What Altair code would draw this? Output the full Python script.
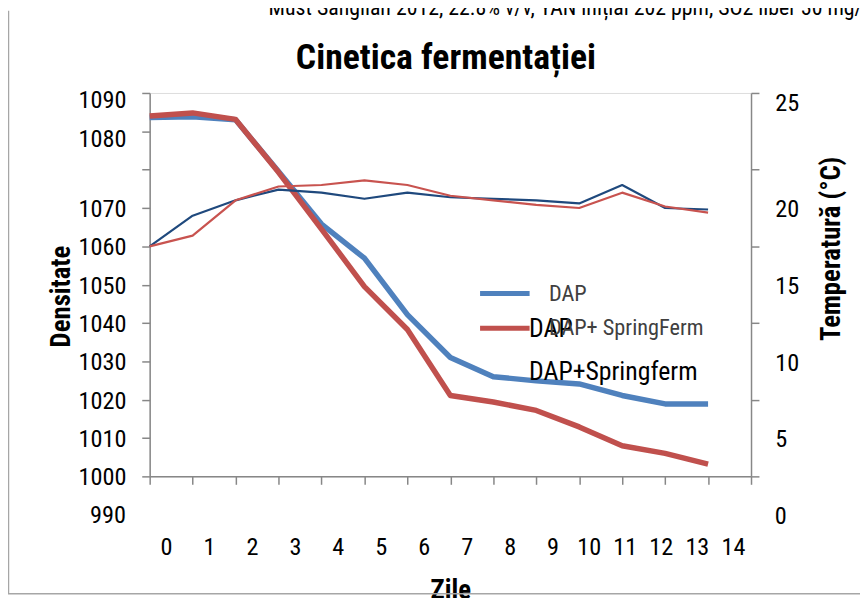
import altair as alt
import pandas as pd

# ---------------- data ----------------
days = list(range(14))
series_names = ["DAP", "DAP+ SpringFerm"]
dens_dap = [1093.6, 1093.8, 1093.0, 1079.5, 1065.8, 1056.9, 1042.2, 1031.0, 1026.0, 1024.9, 1024.1, 1021.1, 1018.9, 1018.9]
dens_sf = [1094.0, 1094.8, 1093.1, 1079.3, 1064.5, 1049.5, 1038.3, 1021.1, 1019.4, 1017.2, 1012.9, 1008.0, 1006.0, 1003.2]
temp_names = ["T DAP", "T DAP+ SpringFerm"]
temp_dap = [17.5, 19.5, 20.5, 21.2, 21.0, 20.6, 21.0, 20.7, 20.6, 20.5, 20.3, 21.5, 20.0, 19.9]
temp_sf = [17.5, 18.2, 20.5, 21.4, 21.5, 21.8, 21.5, 20.8, 20.5, 20.2, 20.0, 21.0, 20.1, 19.7]

x_ticks = list(range(15))
dens_ticks = list(range(1000, 1101, 10))
temp_ticks = [2.5, 5, 7.5, 10, 12.5, 15, 17.5, 20, 22.5, 25, 27.5]
extra_dens_label = [990]
extra_temp_label = [0]

title_text = "Cinetica fermentației"
top_note = "Must Sangilan 2012, 22.8% v/v, YAN inițial 202 ppm, SO2 liber 30 mg/l"
note_labels = ["DAP", "DAP+Springferm"]

FONT = "Roboto Condensed, Open Sans Condensed, Liberation Sans, sans-serif"
GRAY = "#878787"
LBL = 24.5

dens_df = pd.DataFrame({
    "day": days * 2,
    "value": dens_dap + dens_sf,
    "series": [series_names[0]] * 14 + [series_names[1]] * 14,
})
temp_df = pd.DataFrame({
    "day": days * 2,
    "value": temp_dap + temp_sf,
    "series": [temp_names[0]] * 14 + [temp_names[1]] * 14,
})

x_enc = alt.X(
    "day:Q",
    scale=alt.Scale(domain=[0, 14], nice=False, zero=False),
    axis=alt.Axis(
        values=x_ticks, grid=False, title="Zile", format="d",
        titleFont=FONT, titleFontSize=27, titleFontWeight="bold", titleColor="black",
        titleBaseline="alphabetic", titleY=123,
        labelFont=FONT, labelFontSize=LBL, labelColor="black",
        labelBaseline="middle", labelPadding=64, labelFlush=False, labelOverlap=False,
        labelOffset={"expr": "datum.value <= 9 ? 16.5 : 16.5 - 6.95 * (datum.value - 9)"},
        tickSize=8, tickColor=GRAY, tickWidth=1.5, domainColor=GRAY, domainWidth=1.5,
    ),
)

dens_scale = alt.Scale(domain=[1000, 1100], nice=False, zero=False)
dens_axis = alt.Axis(
    values=dens_ticks, grid=False, title="Densitate", format="d",
    titleFont=FONT, titleFontSize=27, titleFontWeight="bold", titleColor="black",
    titleAngle=270, titleBaseline="alphabetic", titleAlign="center", titleX=-81, titleY=205,
    labelFont=FONT, labelFontSize=LBL, labelColor="black", labelPadding=16,
    labelOverlap=False, labelFlush=False,
    labelExpr="datum.value == 1080 ? '' : datum.value == 1090 ? '1080' : datum.value == 1100 ? '1090' : datum.label",
    labelOffset={"expr": "datum.value >= 1090 ? 8 : 1.5"},
    tickSize=8, tickColor=GRAY, tickWidth=1.5, domainColor=GRAY, domainWidth=1.5,
)

temp_scale = alt.Scale(domain=[2.5, 27.5], nice=False, zero=False)
temp_axis = alt.Axis(
    values=temp_ticks, grid=False, title="Temperatură (°C)", orient="right",
    titleFont=FONT, titleFontSize=27, titleFontWeight="bold", titleColor="black",
    titleAngle=270, titleBaseline="alphabetic", titleAlign="center", titleX=89, titleY=157,
    labelFont=FONT, labelFontSize=LBL, labelColor="black", labelPadding=16,
    labelOverlap=False, labelFlush=False,
    labelExpr="datum.value % 5 == 0 ? format(datum.value, 'd') : ''",
    labelOffset={"expr": "datum.value == 25 ? -28 : 2"},
    tickOpacity={"expr": "datum.value % 5 == 0 ? 0 : 1"},
    tickSize=8, tickColor=GRAY, tickWidth=1.5, domainColor=GRAY, domainWidth=1.5,
)

dens_lines = alt.Chart(dens_df).mark_line(strokeWidth=5.5, strokeJoin="round").encode(
    x=x_enc,
    y=alt.Y("value:Q", scale=dens_scale, axis=dens_axis),
    color=alt.Color(
        "series:N",
        scale=alt.Scale(domain=series_names, range=["#4F81BD", "#C0504D"]),
        legend=alt.Legend(
            title=None, orient="none", legendX=346, legendY=190,
            symbolType="M-2.5,0H2.5", symbolSize=400, symbolStrokeWidth=5,
            labelFont=FONT, labelFontSize=22.5, labelColor="#404040", labelLimit=0,
            labelOffset=32, rowPadding=11,
        ),
    ),
)

dens_extra = alt.Chart(pd.DataFrame({"v": extra_dens_label, "t": [str(v) for v in extra_dens_label]})).mark_text(
    align="right", baseline="middle", font=FONT, fontSize=LBL, color="black", dy=1.5
).encode(x=alt.value(-24), y=alt.Y("v:Q", scale=dens_scale, axis=dens_axis), text="t:N")

temp_lines = alt.Chart(temp_df).mark_line(strokeWidth=2.2, strokeJoin="round").encode(
    x=x_enc,
    y=alt.Y("value:Q", scale=temp_scale, axis=temp_axis),
    color=alt.Color(
        "series:N",
        scale=alt.Scale(domain=temp_names, range=["#1F497D", "#C8534F"]),
        legend=None,
    ),
)

temp_extra = alt.Chart(pd.DataFrame({"v": extra_temp_label, "t": [str(v) for v in extra_temp_label]})).mark_text(
    align="left", baseline="middle", font=FONT, fontSize=LBL, color="black", dy=2
).encode(x=alt.value(631), y=alt.Y("v:Q", scale=temp_scale, axis=temp_axis), text="t:N")

title_mark = alt.Chart(pd.DataFrame({"t": [title_text]})).mark_text(
    align="center", baseline="alphabetic", font=FONT, fontSize=36, fontWeight="bold", color="black"
).encode(x=alt.value(299), y=alt.value(-24), text="t:N")

note_top = alt.Chart(pd.DataFrame({"t": [top_note]})).mark_text(
    align="left", baseline="alphabetic", font=FONT, fontSize=22, color="black"
).encode(x=alt.value(120), y=alt.value(-79), text="t:N")

note1 = alt.Chart(pd.DataFrame({"t": [note_labels[0]]})).mark_text(
    align="left", baseline="alphabetic", font=FONT, fontSize=26, color="black"
).encode(x=alt.value(383), y=alt.value(246.5), text="t:N")

note2 = alt.Chart(pd.DataFrame({"t": [note_labels[1]]})).mark_text(
    align="left", baseline="alphabetic", font=FONT, fontSize=26, color="black"
).encode(x=alt.value(383), y=alt.value(289.5), text="t:N")

border_left = alt.Chart(pd.DataFrame({"a": [0]})).mark_rule(color="#A6A6A6", strokeWidth=1.5).encode(
    x=alt.value(-142.5), y=alt.value(-83), y2=alt.value(505.5)
)
border_bottom = alt.Chart(pd.DataFrame({"a": [0]})).mark_rule(color="#A6A6A6", strokeWidth=1.5).encode(
    x=alt.value(-143), x2=alt.value(717), y=alt.value(505.5)
)

left_layer = alt.layer(border_left, border_bottom, note_top, title_mark, dens_lines, dens_extra, note1, note2)
right_layer = alt.layer(temp_lines, temp_extra)

chart = alt.layer(left_layer, right_layer).resolve_scale(
    y="independent", color="independent"
).properties(
    width=607, height=387,
    autosize=alt.AutoSizeParams(type="none"),
    padding={"left": 143, "top": 83, "right": 110, "bottom": 120},
).configure_view(stroke=None).configure(background="white")

chart.save("out.html", embed_options={"renderer": "svg", "actions": False})
